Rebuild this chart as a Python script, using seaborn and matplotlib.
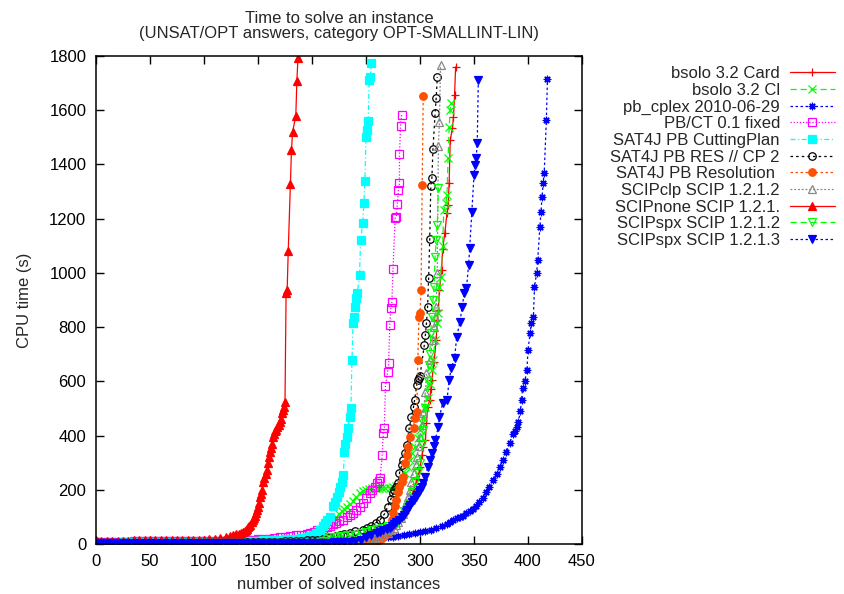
import matplotlib
matplotlib.use("Agg")
import matplotlib.pyplot as plt
import seaborn as sns

# (number of solved instances, cpu time in s)
bsolo_card = [(1, 4), (5, 4), (10, 4), (15, 4), (20, 4), (25, 4), (30, 4), (35, 5), (40, 5), (45, 5), (50, 5),
              (55, 5), (60, 5), (65, 5), (70, 6), (75, 6), (80, 6), (85, 6), (90, 6), (95, 6), (100, 6), (105, 6),
              (110, 7), (115, 7), (120, 7), (125, 7), (130, 7), (135, 7), (140, 8), (145, 8), (150, 8), (155, 8),
              (160, 8), (165, 8), (170, 9), (175, 9), (180, 9), (185, 9), (190, 9), (195, 10), (200, 10),
              (205, 10), (210, 11), (215, 11), (220, 11), (225, 12), (230, 12), (235, 12), (240, 13), (245, 15),
              (250, 17), (255, 21), (260, 26), (263, 32), (266, 38), (269, 45), (272, 52), (275, 62), (277, 70),
              (279, 80), (281, 89), (283, 100), (285, 112), (287, 125), (288, 136), (290, 150), (291, 165),
              (293, 182), (294, 199), (296, 220), (297, 240), (299, 262), (300, 284), (302, 330), (303, 358),
              (305, 384), (306, 446), (307, 505), (309, 531), (310, 570), (311, 605), (313, 671), (315, 752),
              (316, 826), (317, 863), (318, 937), (320, 1011), (321, 1088), (323, 1147), (325, 1221), (326, 1250),
              (327, 1332), (328, 1490), (330, 1534), (331, 1575), (332, 1656), (333, 1760)]
bsolo_cl = [(1, 2), (5, 2), (10, 2), (15, 2), (20, 2), (25, 2), (30, 3), (35, 3), (40, 3), (45, 3), (50, 3),
            (55, 3), (60, 3), (65, 3), (70, 4), (75, 4), (80, 4), (85, 4), (90, 4), (95, 4), (100, 4), (105, 5),
            (110, 5), (115, 5), (120, 5), (125, 5), (130, 6), (135, 6), (140, 6), (145, 6), (150, 7), (155, 7),
            (160, 7), (165, 8), (170, 8), (175, 9), (180, 9), (185, 10), (190, 11), (195, 14), (200, 20),
            (203, 26), (205, 32), (208, 38), (210, 45), (212, 53), (214, 62), (217, 75), (219, 89), (222, 100),
            (225, 110), (228, 122), (230, 130), (232, 137), (235, 148), (238, 160), (241, 175), (244, 188),
            (247, 195), (250, 200), (253, 203), (256, 205), (259, 205), (262, 205), (265, 206), (268, 207),
            (272, 208), (275, 212), (278, 215), (281, 225), (284, 245), (286, 262), (289, 285), (291, 310),
            (293, 335), (295, 358), (298, 390), (300, 420), (302, 445), (303, 468), (305, 505), (307, 540),
            (309, 590), (311, 640), (312, 679), (314, 752), (316, 815), (317, 852), (318, 948), (319, 985),
            (321, 1100), (322, 1232), (324, 1258), (325, 1287), (326, 1424), (327, 1538), (328, 1601), (329, 1627)]
pb_cplex = [(1, 1), (5, 1), (10, 1), (15, 1), (20, 1), (25, 1), (30, 1), (35, 1), (40, 1), (45, 1), (50, 1),
            (55, 1), (60, 1), (65, 1), (70, 1), (75, 1), (80, 1), (85, 1), (90, 1), (95, 1), (100, 2), (105, 2),
            (110, 2), (115, 2), (120, 2), (125, 2), (130, 2), (135, 2), (140, 2), (145, 2), (150, 2), (155, 3),
            (160, 3), (165, 3), (170, 3), (175, 3), (180, 3), (185, 3), (190, 3), (195, 4), (200, 4), (205, 4),
            (210, 5), (215, 6), (220, 7), (225, 8), (230, 10), (235, 12), (240, 13), (245, 15), (250, 17),
            (255, 18), (260, 20), (265, 22), (270, 25), (275, 27), (280, 30), (285, 33), (290, 36), (295, 40),
            (300, 43), (305, 47), (310, 51), (315, 58), (320, 65), (325, 75), (328, 81), (331, 88), (334, 95),
            (337, 100), (340, 105), (343, 114), (346, 120), (349, 128), (352, 140), (355, 155), (358, 170),
            (361, 190), (364, 210), (368, 236), (371, 260), (374, 285), (377, 310), (380, 340), (383, 373),
            (386, 405), (388, 418), (390, 430), (391, 450), (393, 490), (394, 531), (395, 575), (397, 600),
            (399, 642), (400, 716), (402, 778), (403, 815), (405, 837), (406, 948), (408, 1000), (409, 1048),
            (411, 1169), (412, 1225), (413, 1280), (414, 1332), (415, 1369), (417, 1564), (418, 1715)]
pbct = [(1, 9), (5, 9), (10, 9), (15, 9), (20, 9), (25, 9), (30, 9), (35, 10), (40, 10), (45, 10), (50, 10),
        (55, 10), (60, 10), (65, 10), (70, 10), (75, 10), (80, 10), (85, 11), (90, 11), (95, 11), (100, 11),
        (105, 11), (110, 12), (115, 12), (120, 12), (125, 12), (130, 13), (135, 14), (140, 14), (145, 15),
        (150, 17), (155, 18), (160, 20), (165, 22), (170, 25), (175, 27), (180, 29), (185, 32), (190, 35),
        (195, 38), (198, 42), (202, 46), (205, 50), (210, 55), (214, 62), (217, 68), (219, 72), (222, 78),
        (225, 83), (229, 90), (232, 100), (235, 107), (238, 115), (241, 125), (244, 138), (247, 151), (250, 168),
        (254, 188), (256, 200), (258, 212), (260, 225), (262, 233), (263, 243), (265, 328), (266, 409),
        (267, 428), (268, 583), (270, 634), (271, 668), (272, 808), (273, 870), (274, 893), (275, 1014),
        (277, 1202), (278, 1206), (279, 1254), (280, 1306), (281, 1332), (281, 1438), (282, 1542), (283, 1582)]
sat4j_cp = [(1, 5), (5, 5), (10, 5), (15, 5), (20, 5), (25, 6), (30, 6), (35, 6), (40, 6), (45, 6), (50, 6),
            (55, 7), (60, 7), (65, 7), (70, 7), (75, 7), (80, 7), (85, 8), (90, 8), (95, 8), (100, 8), (105, 9),
            (110, 9), (115, 9), (120, 9), (125, 10), (130, 10), (135, 11), (140, 11), (145, 12), (150, 12),
            (155, 13), (160, 13), (165, 14), (170, 16), (175, 17), (180, 18), (185, 20), (190, 22), (195, 26),
            (198, 29), (201, 32), (204, 40), (207, 52), (210, 65), (212, 77), (214, 89), (217, 100), (219, 140),
            (221, 155), (223, 173), (225, 190), (226, 210), (228, 230), (229, 254), (230, 339), (231, 370),
            (232, 395), (233, 428), (235, 470), (236, 502), (237, 679), (238, 815), (239, 837), (240, 874),
            (241, 907), (242, 926), (244, 992), (245, 1121), (247, 1184), (248, 1258), (249, 1339), (250, 1501),
            (251, 1527), (252, 1560), (253, 1711), (254, 1723), (255, 1774)]
sat4j_res_cp2 = [(1, 3), (5, 3), (10, 3), (15, 3), (20, 3), (25, 3), (30, 3), (35, 4), (40, 4), (45, 4),
                 (50, 4), (55, 4), (60, 4), (65, 4), (70, 5), (75, 5), (80, 5), (85, 5), (90, 5), (95, 5),
                 (100, 5), (105, 6), (110, 6), (115, 6), (120, 6), (125, 7), (130, 7), (135, 7), (140, 7),
                 (145, 8), (150, 8), (155, 8), (160, 8), (165, 9), (170, 9), (175, 10), (180, 10), (185, 11),
                 (190, 12), (195, 13), (200, 14), (205, 16), (210, 19), (215, 22), (217, 25), (222, 29), (226, 33),
                 (230, 38), (235, 42), (240, 47), (247, 52), (251, 60), (255, 68), (259, 78), (263, 89), (267, 110),
                 (270, 136), (273, 165), (275, 188), (276, 199), (278, 210), (280, 225), (281, 262), (283, 290),
                 (284, 310), (286, 336), (288, 365), (290, 428), (292, 468), (294, 505), (295, 531), (297, 586),
                 (298, 605), (299, 612), (300, 620), (304, 734), (305, 771), (306, 815), (307, 874), (308, 981),
                 (309, 1125), (310, 1321), (311, 1350), (312, 1457), (314, 1590), (315, 1645), (316, 1723)]
sat4j_res = [(1, 1), (5, 1), (10, 1), (15, 1), (20, 1), (25, 1), (30, 1), (35, 1), (40, 1), (45, 1), (50, 1),
             (55, 1), (60, 1), (65, 1), (70, 1), (75, 1), (80, 2), (85, 2), (90, 2), (95, 2), (100, 2), (105, 2),
             (110, 2), (115, 2), (120, 2), (125, 2), (130, 2), (135, 2), (140, 2), (145, 2), (150, 2), (155, 3),
             (160, 3), (165, 3), (170, 3), (175, 3), (180, 3), (185, 3), (190, 3), (195, 3), (200, 3), (205, 3),
             (210, 3), (215, 3), (220, 4), (225, 4), (230, 4), (235, 4), (240, 5), (245, 5), (250, 6), (255, 8),
             (259, 11), (262, 14), (264, 19), (266, 25), (268, 33), (269, 41), (271, 52), (272, 63), (274, 90),
             (275, 114), (277, 140), (278, 162), (280, 190), (281, 210), (283, 230), (284, 247), (286, 299),
             (288, 330), (289, 358), (291, 395), (294, 428), (295, 465), (297, 487), (298, 679), (299, 837),
             (300, 852), (301, 937), (302, 1324), (303, 1653)]
scipclp = [(1, 2), (5, 2), (10, 2), (15, 2), (20, 2), (25, 2), (30, 2), (35, 2), (40, 2), (45, 2), (50, 2),
           (55, 2), (60, 3), (65, 3), (70, 3), (75, 3), (80, 3), (85, 3), (90, 3), (95, 3), (100, 3), (105, 3),
           (110, 3), (115, 3), (120, 4), (125, 4), (130, 4), (135, 4), (140, 4), (145, 4), (150, 4), (155, 5),
           (160, 5), (165, 5), (170, 5), (175, 6), (180, 6), (185, 6), (190, 7), (195, 7), (200, 8), (205, 9),
           (210, 9), (215, 10), (220, 10), (225, 11), (230, 12), (235, 12), (240, 14), (245, 14), (250, 15),
           (255, 18), (258, 22), (262, 25), (266, 32), (270, 40), (273, 50), (276, 60), (278, 70), (280, 80),
           (282, 95), (284, 110), (286, 130), (287, 150), (289, 175), (291, 199), (292, 230), (294, 262),
           (296, 290), (297, 321), (299, 360), (300, 395), (302, 440), (303, 483), (305, 560), (306, 631),
           (309, 679), (312, 752), (313, 800), (314, 837), (315, 874), (316, 1000), (317, 1468), (318, 1556),
           (319, 1767)]
scipnone = [(1, 10), (5, 10), (10, 10), (15, 11), (20, 12), (25, 12), (30, 12), (35, 13), (40, 13), (45, 13),
            (50, 13), (55, 14), (60, 14), (65, 14), (70, 14), (75, 15), (80, 15), (85, 15), (90, 15), (95, 16),
            (100, 16), (105, 17), (110, 18), (115, 22), (120, 26), (124, 30), (127, 33), (130, 36), (132, 38),
            (134, 41), (136, 44), (138, 48), (139, 52), (140, 57), (141, 63), (142, 66), (143, 70), (144, 80),
            (145, 89), (146, 97), (147, 105), (148, 115), (149, 125), (150, 137), (151, 150), (152, 173),
            (153, 186), (154, 200), (155, 229), (156, 245), (157, 260), (158, 273), (159, 300), (160, 320),
            (161, 339), (162, 355), (163, 370), (164, 395), (165, 405), (166, 415), (167, 422), (168, 430),
            (169, 439), (170, 450), (171, 460), (172, 483), (173, 495), (174, 505), (175, 524), (176, 925),
            (177, 937), (178, 1081), (180, 1328), (181, 1453), (182, 1520), (185, 1579), (186, 1708), (187, 1793)]
scipspx_1212 = [(1, 1), (5, 1), (10, 1), (15, 1), (20, 1), (25, 1), (30, 1), (35, 1), (40, 1), (45, 1),
                (50, 1), (55, 1), (60, 1), (65, 1), (70, 1), (75, 1), (80, 2), (85, 2), (90, 2), (95, 2), (100, 2),
                (105, 2), (110, 2), (115, 2), (120, 2), (125, 2), (130, 2), (135, 2), (140, 2), (145, 2),
                (150, 2), (155, 2), (160, 3), (165, 3), (170, 3), (175, 3), (180, 3), (185, 3), (190, 3),
                (195, 3), (200, 3), (205, 5), (210, 10), (214, 18), (217, 25), (222, 27), (226, 29), (230, 30),
                (235, 32), (240, 35), (245, 40), (250, 45), (255, 50), (260, 55), (265, 60), (270, 66), (275, 72),
                (279, 77), (282, 95), (285, 120), (288, 135), (290, 150), (293, 190), (295, 230), (298, 265),
                (300, 300), (302, 370), (303, 420), (305, 500), (307, 600), (308, 660), (309, 700), (310, 780),
                (311, 837), (312, 900), (313, 948), (314, 1059), (315, 1121), (316, 1177), (317, 1313)]
scipspx_1213 = [(1, 2), (5, 2), (10, 2), (15, 2), (20, 2), (25, 2), (30, 2), (35, 2), (40, 2), (45, 2),
                (50, 2), (55, 2), (60, 3), (65, 3), (70, 3), (75, 3), (80, 3), (85, 3), (90, 3), (95, 3), (100, 3),
                (105, 3), (110, 3), (115, 3), (120, 3), (125, 3), (130, 3), (135, 3), (140, 4), (145, 4), (150, 4),
                (155, 4), (160, 4), (165, 4), (170, 4), (175, 4), (180, 4), (185, 4), (190, 4), (195, 4),
                (200, 5), (205, 5), (210, 5), (215, 5), (220, 6), (225, 7), (230, 8), (235, 9), (240, 10),
                (245, 15), (250, 25), (255, 33), (260, 41), (263, 45), (266, 50), (269, 55), (272, 59), (274, 65),
                (276, 72), (278, 80), (281, 89), (283, 98), (285, 108), (287, 117), (288, 125), (290, 135),
                (291, 145), (293, 155), (294, 162), (296, 172), (297, 180), (299, 190), (300, 199), (302, 212),
                (303, 225), (305, 247), (307, 284), (309, 310), (311, 336), (313, 360), (314, 384), (317, 432),
                (318, 468), (321, 520), (325, 531), (327, 605), (329, 649), (332, 686), (334, 764), (337, 820),
                (339, 874), (341, 926), (343, 944), (345, 1029), (346, 1092), (348, 1225), (350, 1361),
                (351, 1398), (352, 1424), (353, 1479), (354, 1711)]

x_ticks = [0, 50, 100, 150, 200, 250, 300, 350, 400, 450]
y_ticks = [0, 200, 400, 600, 800, 1000, 1200, 1400, 1600, 1800]

# label, data, color, marker, filled, linestyle
series = [
    ("bsolo 3.2 Card", bsolo_card, "#ff0000", "+", True, "-"),
    ("bsolo 3.2 Cl", bsolo_cl, "#00ff00", "x", True, (0, (5, 3))),
    ("pb_cplex 2010-06-29", pb_cplex, "#0000ff", (8, 2, 0), True, (0, (2, 2))),
    ("PB/CT 0.1 fixed", pbct, "#ff00ff", "s", False, (0, (1, 1.5))),
    ("SAT4J PB CuttingPlan", sat4j_cp, "#00ffff", "s", True, (0, (4, 2, 1, 2))),
    ("SAT4J PB RES // CP 2", sat4j_res_cp2, "#000000", "o", False, (0, (2, 2.5))),
    ("SAT4J PB Resolution ", sat4j_res, "#ff4f00", "o", True, (0, (2, 2))),
    ("SCIPclp SCIP 1.2.1.2", scipclp, "#888888", "^", False, (0, (1.5, 1.5))),
    ("SCIPnone SCIP 1.2.1.", scipnone, "#ff0000", "^", True, "-"),
    ("SCIPspx SCIP 1.2.1.2", scipspx_1212, "#00ff00", "v", False, (0, (5, 3))),
    ("SCIPspx SCIP 1.2.1.3", scipspx_1213, "#0000ff", "v", True, (0, (2, 2))),
]

sns.set_theme(style="ticks")
plt.rcParams["font.family"] = ["Liberation Sans", "DejaVu Sans"]
FS = 12

fig = plt.figure(figsize=(8.45, 5.94), dpi=100)
ax = fig.add_axes([96 / 845, 50 / 594, 486 / 845, 488 / 594])

for label, data, color, marker, filled, ls in series:
    n = [p[0] for p in data]
    t = [p[1] for p in data]
    sns.lineplot(x=n, y=t, ax=ax, estimator=None, sort=False, legend=False, label=label,
                 color=color, linestyle=ls, linewidth=0.9, marker=marker, markersize=5.4,
                 markeredgecolor=color, markerfacecolor=color if filled else "none",
                 markeredgewidth=0.9)

ax.set_xlim(0, 450)
ax.set_ylim(0, 1800)
ax.set_xticks(x_ticks)
ax.set_yticks(y_ticks)
ax.tick_params(direction="in", top=True, right=True, length=6, width=1, labelsize=FS, pad=7,
               colors="black")
for s in ax.spines.values():
    s.set_linewidth(1.1)
    s.set_color("black")
ax.set_xlabel("number of solved instances", fontsize=FS, labelpad=6)
ax.set_ylabel("CPU time (s)", fontsize=FS, labelpad=12)
ax.set_title("Time to solve an instance\n(UNSAT/OPT answers, category OPT-SMALLINT-LIN)",
             fontsize=FS, pad=13, linespacing=1.0)

if ax.get_legend() is not None:
    ax.get_legend().remove()
handles, labels = ax.get_legend_handles_labels()
leg = fig.legend(handles, labels, loc="upper right", bbox_to_anchor=(0.996, 0.9), frameon=False,
                 markerfirst=False, handlelength=2.7, handletextpad=0.6, labelspacing=0.1,
                 borderaxespad=0, fontsize=FS)
# gnuplot keeps the key texts right-aligned
for col in leg._legend_handle_box.get_children():
    col.align = "right"

fig.savefig("out.png", dpi=100)
plt.close(fig)
